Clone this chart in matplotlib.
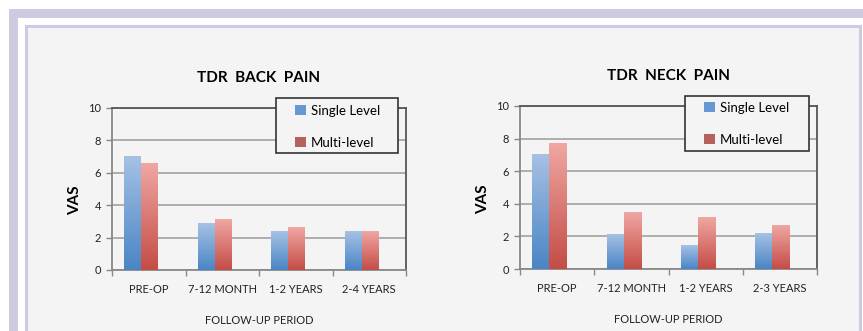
import numpy as np
import matplotlib
matplotlib.use("Agg")
import matplotlib.pyplot as plt
from matplotlib.patches import Rectangle
from matplotlib.colors import LinearSegmentedColormap

plt.rcParams['font.family'] = ['Lato', 'DejaVu Sans']

W, H = 863, 331

# data
back_periods = ["PRE-OP", "7-12 MONTH", "1-2 YEARS", "2-4 YEARS"]
back_single = [7.0, 2.9, 2.4, 2.35]
back_multi = [6.55, 3.1, 2.6, 2.4]

neck_periods = ["PRE-OP", "7-12 MONTH", "1-2 YEARS", "2-3 YEARS"]
neck_single = [7.05, 2.1, 1.45, 2.2]
neck_multi = [7.7, 3.45, 3.15, 2.65]

series_names = ["Single Level", "Multi-level"]

# colours
blue_top, blue_bot = "#a6c1e4", "#4a85c5"
red_top, red_bot = "#f0a7a3", "#c44c46"
blue_key, red_key = "#6699d2", "#b5625e"
lavender = "#cdcbe2"
panel = "#f4f4f4"


def px_box(x0, y0, x1, y1):
    # pixel box (from top-left) -> figure fraction (left, bottom, width, height)
    return [x0 / W, 1 - y1 / H, (x1 - x0) / W, (y1 - y0) / H]


def gradient_bar(ax, bar, c_top, c_bot):
    x, y = bar.get_xy()
    w, h = bar.get_width(), bar.get_height()
    cmap = LinearSegmentedColormap.from_list("g", [c_bot, c_top])
    grad = np.linspace(0, 1, 256).reshape(-1, 1)
    ax.imshow(grad, extent=(x, x + w, y, y + h), origin="lower", cmap=cmap,
              aspect="auto", zorder=3, interpolation="bilinear")


def draw_chart(fig, axbox, title, periods, single, multi, legbox, key_xy):
    ax = fig.add_axes(px_box(*axbox))
    ax.set_zorder(1)
    ax.set_facecolor(panel)
    x = np.arange(len(periods))
    w = 0.23
    off = -0.105
    bars1 = ax.bar(x + off - w / 2, single, w, color="none", zorder=3)
    bars2 = ax.bar(x + off + w / 2, multi, w, color="none", zorder=3)
    for b in bars1:
        gradient_bar(ax, b, blue_top, blue_bot)
    for b in bars2:
        gradient_bar(ax, b, red_top, red_bot)

    ax.set_xlim(-0.5, len(periods) - 0.5)
    ax.set_ylim(0, 10)
    ax.set_yticks([0, 2, 4, 6, 8, 10])
    ax.set_xticks(np.arange(len(periods) + 1) - 0.5)
    ax.set_xticklabels([])
    ax.set_xticks(x, minor=True)
    ax.set_xticklabels(periods, minor=True, fontsize=8, color="#222222")
    ax.tick_params(axis="x", which="minor", length=0, pad=10)
    ax.tick_params(axis="x", which="major", length=4, width=1, color="#888888")
    ax.tick_params(axis="y", length=4, width=1, color="#888888", labelsize=8,
                   pad=4, labelcolor="#222222")
    ax.yaxis.grid(True, color="#a8a8a8", linewidth=1.3, zorder=1)
    ax.set_axisbelow(True)
    for s in ax.spines.values():
        s.set_color("#555555")
        s.set_linewidth(1.3)
    ax.spines["left"].set_color("#888888")
    ax.spines["bottom"].set_color("#888888")

    ax.set_title(title, fontsize=11, fontweight="bold", pad=19)
    ax.set_ylabel("VAS", fontsize=11, fontweight="bold")
    ax.yaxis.set_label_coords(-30 / (axbox[2] - axbox[0]), 0.43)
    ax.set_xlabel("FOLLOW-UP PERIOD", fontsize=8, color="#222222")
    ax.xaxis.set_label_coords(0.5, -45 / (axbox[3] - axbox[1]))

    # legend box drawn over the axes
    lx0, ly0, lx1, ly1 = legbox
    b = px_box(lx0, ly0, lx1, ly1)
    fig.patches.append(Rectangle((b[0], b[1]), b[2], b[3], transform=fig.transFigure,
                                 facecolor=panel, edgecolor="#333333", linewidth=1.2,
                                 zorder=5))
    handles = [Rectangle((0, 0), 1, 1, facecolor=blue_key, edgecolor="none"),
               Rectangle((0, 0), 1, 1, facecolor=red_key, edgecolor="none")]
    leg = fig.legend(handles, series_names, loc="upper left",
                     bbox_to_anchor=(key_xy[0] / W, 1 - key_xy[1] / H),
                     frameon=False, fontsize=9.5, handlelength=0.8, handleheight=0.8,
                     handletextpad=0.4, labelspacing=1.5, borderpad=0, borderaxespad=0)
    leg.set_zorder(6)
    return ax


fig = plt.figure(figsize=(W / 100, H / 100), dpi=100)
fig.patch.set_facecolor("white")

# page decoration: outer lavender strip and inner panel
for bx in [px_box(9, 9, 863, 18), px_box(9, 9, 18, 331)]:
    fig.patches.append(Rectangle((bx[0], bx[1]), bx[2], bx[3], transform=fig.transFigure,
                                 facecolor=lavender, edgecolor="none", zorder=-2))
pb = px_box(25.5, 25.5, 859.5, 340)
fig.patches.append(Rectangle((pb[0], pb[1]), pb[2], pb[3], transform=fig.transFigure,
                             facecolor=panel, edgecolor=lavender, linewidth=2.2, zorder=-1))

draw_chart(fig, (112, 108, 406, 270), "TDR  BACK  PAIN", back_periods, back_single,
           back_multi, (276, 98, 398, 153), (295, 105))
draw_chart(fig, (520, 106, 817, 269), "TDR  NECK  PAIN", neck_periods, neck_single,
           neck_multi, (685, 96, 809, 151), (704, 102))

fig.savefig("out.png", dpi=100)
